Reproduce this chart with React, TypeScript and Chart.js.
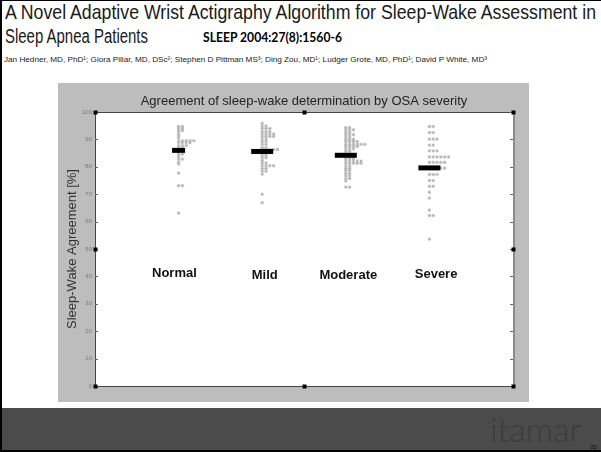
import React, { useEffect, useLayoutEffect, useRef } from 'react';
import { Chart, registerables } from 'chart.js';

Chart.register(...registerables);

// ---------- data ----------
const groups = ['Normal', 'Mild', 'Moderate', 'Severe'];
const groupX = [1, 2, 3, 4];
const normalValues = [94.7, 94.7, 94.0, 94.0, 93.2, 93.2, 92.3, 91.4, 90.6, 89.5, 89.5, 89.5, 89.5, 89.5, 88.8, 88.8, 88.8, 88.8, 87.7, 87.7, 87.7, 86.7, 86.7, 85.5, 84.6, 84.6, 83.7, 82.8, 82.8, 81.8, 81.0, 77.7, 73.1, 73.1, 63.1];
const mildValues = [95.9, 94.9, 94.9, 94.0, 94.0, 94.0, 92.9, 92.9, 92.9, 92.0, 92.0, 92.0, 92.0, 91.1, 91.1, 91.1, 91.1, 90.1, 90.1, 89.2, 89.2, 88.2, 88.2, 87.0, 87.0, 86.3, 86.3, 86.3, 86.3, 86.3, 85.2, 85.2, 85.2, 84.2, 84.2, 83.3, 83.3, 82.3, 81.4, 81.4, 80.4, 80.4, 80.4, 80.4, 79.4, 79.4, 78.4, 78.4, 77.3, 70.0, 66.9];
const moderateValues = [94.3, 94.3, 93.5, 93.5, 93.5, 92.6, 92.6, 91.7, 91.7, 91.7, 90.8, 90.8, 90.0, 90.0, 90.0, 89.2, 89.2, 89.2, 89.2, 88.2, 88.2, 88.2, 88.2, 88.2, 88.2, 87.4, 87.4, 87.4, 87.4, 86.5, 86.5, 86.5, 85.6, 85.6, 84.4, 84.4, 84.4, 83.0, 83.0, 83.0, 82.1, 82.1, 82.1, 82.1, 82.1, 81.3, 81.3, 81.3, 81.3, 81.3, 80.3, 80.3, 79.4, 79.4, 78.6, 78.6, 77.6, 77.6, 76.7, 76.7, 75.7, 75.7, 74.8, 72.6, 72.6];
const severeValues = [94.7, 94.7, 92.5, 92.5, 90.1, 90.1, 90.1, 87.9, 87.9, 85.8, 85.8, 85.8, 83.6, 83.6, 83.6, 83.6, 83.6, 83.6, 81.6, 81.6, 81.6, 81.6, 81.6, 79.5, 79.5, 79.5, 79.5, 79.5, 77.2, 77.2, 77.2, 75.0, 75.0, 72.9, 72.9, 70.7, 68.6, 64.2, 62.2, 62.2, 53.6];
const meanValues = [86.0, 85.6, 84.2, 79.6];
const yTickValues = [0, 10, 20, 30, 40, 50, 60, 70, 80, 90, 100];
// where the in-plot group names sit (data units)
const labelOffsetX = [-0.05, 0.03, 0.03, 0.08];
const labelValueY = [41.2, 40.4, 40.4, 40.9];

const chartTitle = 'Agreement of sleep-wake determination by OSA severity';
const yAxisTitle = 'Sleep-Wake Agreement [%]';
const slideTitle1 = 'A Novel Adaptive Wrist Actigraphy Algorithm for Sleep-Wake Assessment in';
const slideTitle2 = 'Sleep Apnea Patients';
const citation = 'SLEEP 2004:27(8):1560-6';
const authors = 'Jan Hedner, MD, PhD\u00B9; Giora Pillar, MD, DSc\u00B2; Stephen D Pittman MS\u00B3; Ding Zou, MD\u00B9; Ludger Grote, MD, PhD\u00B9; David P White, MD\u00B3';

// ---------- styling ----------
const SANS = '"Liberation Sans", Arial, Helvetica, sans-serif';
const SWARM_STEP = 0.0456;
const meanHalfWidths = [6.5, 11, 11, 11];

function swarm(values: number[], gx: number) {
  const seen = new Map<number, number>();
  return values.map((v) => {
    const k = seen.get(v) ?? 0;
    seen.set(v, k + 1);
    return { x: gx + k * SWARM_STEP, y: v };
  });
}

const framePlugin = {
  id: 'matlabFrame',
  beforeDraw(chart: any) {
    const { ctx, chartArea: a, width, height } = chart;
    ctx.save();
    ctx.fillStyle = '#bdbdbd';
    ctx.fillRect(0, 0, width, height);
    ctx.fillStyle = '#ffffff';
    ctx.fillRect(a.left, a.top, a.right - a.left, a.bottom - a.top);
    ctx.restore();
  },
  afterDatasetsDraw(chart: any) {
    const { ctx, chartArea: a, scales } = chart;
    const xs = scales.x;
    const ys = scales.y;
    ctx.save();
    ctx.strokeStyle = '#454545';
    ctx.lineWidth = 1;
    ctx.beginPath();
    ctx.moveTo(a.left + 0.5, a.top + 0.5);
    ctx.lineTo(a.right, a.top + 0.5);
    ctx.moveTo(a.left + 0.5, a.top);
    ctx.lineTo(a.left + 0.5, a.bottom + 0.5);
    ctx.lineTo(a.right, a.bottom + 0.5);
    ctx.stroke();
    ctx.strokeStyle = '#8a8a8a';
    ctx.lineWidth = 2;
    ctx.beginPath();
    ctx.moveTo(a.right + 1, a.top);
    ctx.lineTo(a.right + 1, a.bottom + 1);
    ctx.stroke();
    ctx.strokeStyle = '#666';
    ctx.lineWidth = 1;
    ctx.beginPath();
    yTickValues.forEach((v) => {
      const y = Math.round(ys.getPixelForValue(v)) + 0.5;
      ctx.moveTo(a.left, y);
      ctx.lineTo(a.left + 3, y);
      ctx.moveTo(a.right, y);
      ctx.lineTo(a.right - 3, y);
    });
    ctx.stroke();
    ctx.fillStyle = '#000';
    const hx = [xs.min, (xs.min + xs.max) / 2, xs.max];
    const hy = [ys.min, (ys.min + ys.max) / 2, ys.max];
    hx.forEach((xv, i) =>
      hy.forEach((yv, j) => {
        if (i === 1 && j === 1) return;
        const px = Math.round(xs.getPixelForValue(xv));
        const py = Math.round(ys.getPixelForValue(yv));
        ctx.fillRect(px - 1.5, py - 1.5, 4, 4);
      })
    );
    ctx.fillStyle = '#111';
    ctx.font = `bold 13px ${SANS}`;
    ctx.textAlign = 'center';
    ctx.textBaseline = 'middle';
    groups.forEach((g, i) => {
      ctx.fillText(g, xs.getPixelForValue(groupX[i] + labelOffsetX[i]), ys.getPixelForValue(labelValueY[i]));
    });
    ctx.restore();
  },
};

function FitText(props: {
  text: string;
  left: number;
  baseline: number;
  width: number;
  size: number;
  family?: string;
  weight?: number | string;
  color?: string;
  ascent?: number;
}) {
  const { text, left, baseline, width, size, family = SANS, weight = 400, color = '#000', ascent = 0.8465 } = props;
  const ref = useRef<HTMLSpanElement>(null);
  useLayoutEffect(() => {
    const el = ref.current;
    if (!el) return;
    el.style.transform = 'none';
    const w = el.getBoundingClientRect().width;
    if (w > 0) el.style.transform = `scaleX(${width / w})`;
  }, [text, width, size]);
  return (
    <span
      ref={ref}
      style={{
        position: 'absolute',
        left,
        top: baseline - ascent * size,
        fontSize: size,
        lineHeight: `${size}px`,
        fontFamily: family,
        fontWeight: weight as any,
        color,
        whiteSpace: 'nowrap',
        display: 'inline-block',
        transformOrigin: '0 0',
      }}
    >
      {text}
    </span>
  );
}

function AgreementChart() {
  const canvasRef = useRef<HTMLCanvasElement>(null);
  useEffect(() => {
    if (!canvasRef.current) return;
    const seriesValues = [normalValues, mildValues, moderateValues, severeValues];
    const chart = new Chart(canvasRef.current, {
      type: 'scatter',
      data: {
        datasets: [
          {
            label: 'Mean',
            data: meanValues.map((v, i) => ({ x: groupX[i], y: v })),
            pointStyle: 'line',
            pointRadius: meanHalfWidths,
            pointBorderWidth: 5,
            borderColor: '#000',
            backgroundColor: '#000',
          } as any,
          ...seriesValues.map((vals, i) => ({
            label: groups[i],
            data: swarm(vals, groupX[i]),
            pointStyle: 'star',
            pointRadius: 1.7,
            pointBorderWidth: 0.9,
            borderColor: '#b2b2b2',
            backgroundColor: 'rgba(0,0,0,0)',
          })),
        ],
      },
      options: {
        animation: false,
        responsive: false,
        devicePixelRatio: 1,
        layout: { padding: { top: 0, right: 6, bottom: 7, left: 0 } },
        plugins: {
          legend: { display: false },
          tooltip: { enabled: false },
          title: {
            display: true,
            text: chartTitle,
            fullSize: false,
            color: '#222',
            font: { family: SANS, size: 13, weight: 'normal' as any },
            padding: { top: 11, bottom: 2.4 },
          },
        },
        scales: {
          x: { type: 'linear', min: 0, max: 5, display: false },
          y: {
            type: 'linear',
            min: 0,
            max: 100,
            afterBuildTicks: (s: any) => {
              s.ticks = yTickValues.map((v) => ({ value: v }));
            },
            afterFit: (s: any) => {
              s.width = 37;
            },
            grid: { display: false, drawTicks: false },
            border: { display: false },
            ticks: { color: '#7a7a7a', padding: 3, font: { family: SANS, size: 6 } },
            title: {
              display: true,
              text: yAxisTitle,
              color: '#333',
              font: { family: SANS, size: 13 },
              padding: { top: 7, bottom: 0 },
            },
          },
        },
      },
      plugins: [framePlugin],
    } as any);
    return () => chart.destroy();
  }, []);
  return (
    <canvas
      ref={canvasRef}
      width={471}
      height={319}
      style={{ position: 'absolute', left: 58, top: 83, width: 471, height: 319 }}
    />
  );
}

export default function App() {
  return (
    <div
      style={{
        position: 'fixed',
        left: 0,
        top: 0,
        width: 601,
        height: 452,
        background: '#fff',
        overflow: 'hidden',
        fontFamily: SANS,
      }}
    >
      <FitText text={slideTitle1} left={5} baseline={19} width={591} size={21} color="#1a1a1a" />
      <FitText text={slideTitle2} left={5} baseline={43} width={143} size={20} color="#1a1a1a" />
      <FitText
        text={citation}
        left={203}
        baseline={43}
        width={139}
        size={13}
        weight={700}
        family='Lato, "Open Sans", sans-serif'
        ascent={0.887}
        color="#000"
      />
      <FitText text={authors} left={4} baseline={63} width={483} size={8} color="#222" />
      <AgreementChart />
      <div style={{ position: 'absolute', left: 0, top: 408, width: 601, height: 42, background: '#4b4b4b' }} />
      <span
        style={{
          position: 'absolute',
          left: 490,
          top: 442 - 0.887 * 34,
          fontSize: 34,
          lineHeight: '34px',
          fontFamily: 'Lato, sans-serif',
          fontWeight: 300,
          color: '#3c3c3c',
          whiteSpace: 'nowrap',
        }}
      >
        itamar
      </span>
      <span
        style={{
          position: 'absolute',
          left: 590,
          top: 444,
          fontSize: 6,
          lineHeight: '6px',
          color: '#111',
          whiteSpace: 'nowrap',
        }}
      >
        35
      </span>
      <div style={{ position: 'absolute', left: 0, top: 450, width: 601, height: 2, background: '#000' }} />
      <div style={{ position: 'absolute', left: 0, top: 0, width: 2, height: 452, background: '#000' }} />
      <div style={{ position: 'absolute', left: 0, top: 0, width: 601, height: 1, background: '#000' }} />
    </div>
  );
}
